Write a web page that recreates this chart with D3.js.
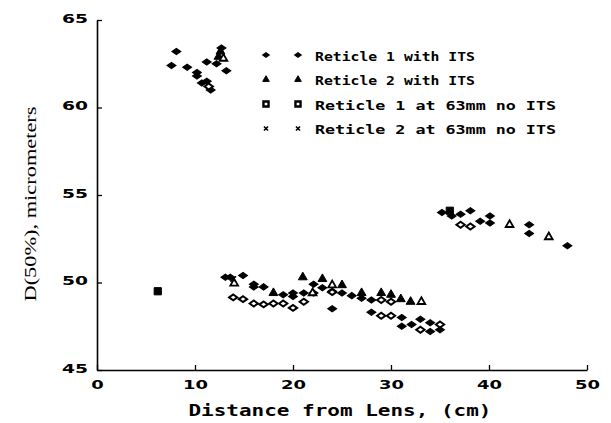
<!DOCTYPE html>
<html>
<head>
<meta charset="utf-8">
<script src="https://cdn.jsdelivr.net/npm/d3@7"></script>
<style>
  body { margin: 0; background: #fff; }
  svg { display: block; }
</style>
</head>
<body>
<div id="chart"></div>
<script>
// values: [distance (cm), D(50%) (micrometers)]
var r1Filled = [
  [7.6,62.4],[8.1,63.2],[9.2,62.3],[10.2,62.0],[10.2,61.8],[10.7,61.4],[11.2,61.5],[11.6,61.0],
  [11.2,62.6],[12.2,62.5],[13.2,62.1],[12.7,63.4],
  [13.1,50.3],[13.6,50.3],[14.9,50.4],[16.0,49.9],[16.0,49.75],[17.0,49.75],[19.0,49.3],[20.0,49.4],
  [20.0,49.2],[21.1,49.4],[22.1,49.9],[22.1,49.4],[23.0,49.7],[24.0,49.5],[25.0,49.4],[26.0,49.25],
  [27.0,49.1],[28.0,49.0],[24.0,48.5],[28.0,48.3],[31.1,48.0],[31.1,47.5],[32.1,47.6],[33.0,47.9],
  [34.0,47.7],[34.0,47.2],[35.0,47.3],
  [35.2,54.0],[36.2,53.8],[37.1,53.9],[38.1,54.1],[39.1,53.5],[40.1,53.8],[40.1,53.4],
  [44.1,53.3],[44.1,52.8],[48.0,52.1]
];
var r1Open = [
  [11.4,61.2],[13.9,49.15],[14.9,49.05],[16.0,48.8],[17.0,48.75],[18.0,48.8],[19.0,48.8],[20.0,48.55],
  [21.1,48.9],[24.0,49.45],[29.0,49.0],[30.0,48.9],[29.0,48.1],[30.0,48.1],[33.0,47.3],[35.0,47.6],
  [37.1,53.3],[38.1,53.2]
];
var r2Filled = [
  [12.4,62.9],[12.6,63.2],[18.0,49.4],[21.0,50.3],[23.0,50.2],[25.0,49.85],[27.0,49.4],
  [29.0,49.4],[30.0,49.3],[31.0,49.05],[32.0,48.9]
];
var r2Open = [
  [12.9,62.8],[14.0,49.95],[22.0,49.4],[24.0,49.85],[33.1,48.9],[42.1,53.3],[46.1,52.6]
];
var r1NoIts = [[6.2,49.5],[36.0,54.1]];
var r2NoIts = [[13.9,50.2]];

var legendLabels = ["Reticle 1 with ITS", "Reticle 2 with ITS",
                    "Reticle 1 at 63mm no ITS", "Reticle 2 at 63mm no ITS"];
var xTicks = [0, 10, 20, 30, 40, 50];
var yTicks = [45, 50, 55, 60, 65];

var margin = {top: 20, right: 24, bottom: 53, left: 97},
    width = 611 - margin.left - margin.right,
    height = 423 - margin.top - margin.bottom;

var svg = d3.select("#chart").append("svg")
    .attr("width", 611)
    .attr("height", 423)
  .append("g")
    .attr("transform", "translate(" + margin.left + "," + margin.top + ")");

var x = d3.scaleLinear().domain([0, 50]).range([0, width]);
var y = d3.scaleLinear().domain([45, 65]).range([height, 0]);

// wide flat diamond, like the plotter marks
var wideDiamond = {
  draw: function(ctx, size) {
    var r = Math.sqrt(size) / 2;
    ctx.moveTo(-r * 1.25, 0);
    ctx.lineTo(0, -r * 0.9);
    ctx.lineTo(r * 1.25, 0);
    ctx.lineTo(0, r * 0.9);
    ctx.closePath();
  }
};
// thin diagonal cross
var thinX = {
  draw: function(ctx, size) {
    var r = Math.sqrt(size) / 2;
    ctx.moveTo(-r, -r); ctx.lineTo(r, r);
    ctx.moveTo(-r, r); ctx.lineTo(r, -r);
  }
};

var shapes = {
  dFill: {type: wideDiamond, size: 48, fill: "#000", sw: 1.2},
  dOpen: {type: wideDiamond, size: 44, fill: "#fff", sw: 2},
  tFill: {type: d3.symbolTriangle, size: 34, fill: "#000", sw: 1},
  tOpen: {type: d3.symbolTriangle, size: 26, fill: "#fff", sw: 1.8},
  sq:    {type: d3.symbolSquare, size: 52, fill: "#000", sw: 1},
  cross: {type: thinX, size: 30, fill: "none", sw: 1.6}
};

function drawMarks(data, key) {
  var s = shapes[key];
  svg.append("g").selectAll("path")
    .data(data).enter().append("path")
    .attr("transform", d => "translate(" + x(d[0]) + "," + y(d[1]) + ")")
    .attr("d", d3.symbol().type(s.type).size(s.size))
    .style("fill", s.fill)
    .style("stroke", "#000")
    .style("stroke-width", s.sw);
}

drawMarks(r1Filled, "dFill");
drawMarks(r1Open, "dOpen");
drawMarks(r2Filled, "tFill");
drawMarks(r2Open, "tOpen");
drawMarks(r1NoIts, "sq");
drawMarks(r2NoIts, "cross");

// axes
var tickFont = "bold 12.5px 'DejaVu Sans'";

var xAxis = svg.append("g")
    .attr("transform", "translate(0," + height + ")")
    .call(d3.axisBottom(x).tickValues(xTicks).tickSizeInner(-5).tickSizeOuter(0));
xAxis.selectAll("text")
    .attr("y", 19).attr("dy", null)
    .style("font", tickFont)
    .attr("textLength", d => String(d).length * 12.5)
    .attr("lengthAdjust", "spacingAndGlyphs");

var yAxis = svg.append("g")
    .call(d3.axisLeft(y).tickValues(yTicks).tickSizeInner(-5).tickSizeOuter(0));
yAxis.selectAll("text")
    .attr("x", -9).attr("y", -2)
    .style("font", tickFont)
    .attr("textLength", 26)
    .attr("lengthAdjust", "spacingAndGlyphs");

svg.selectAll(".domain").style("stroke", "#000").style("stroke-width", 1.6);
svg.selectAll(".tick line").style("stroke", "#000").style("stroke-width", 1.3);
svg.selectAll(".tick text").style("fill", "#000");

// titles
svg.append("text")
    .attr("x", 340 - margin.left)
    .attr("y", 416 - margin.top)
    .style("text-anchor", "middle")
    .style("font", "bold 15px 'DejaVu Sans Mono'")
    .attr("textLength", 303)
    .attr("lengthAdjust", "spacingAndGlyphs")
    .text("Distance from Lens, (cm)");

svg.append("text")
    .attr("transform", "translate(" + (36 - margin.left) + "," + (204 - margin.top) + ") rotate(-90)")
    .style("text-anchor", "middle")
    .style("font", "16.5px 'Liberation Serif'")
    .attr("textLength", 195)
    .attr("lengthAdjust", "spacingAndGlyphs")
    .text("D(50%), micrometers");

// legend: two marker columns then the label
var legendKeys = [["dFill", "dFill"], ["tFill", "tFill"], ["sqOpen", "sqOpen"], ["cross", "cross"]];
var legendWidths = [160, 160, 241, 241];
shapes.sqOpen = {type: d3.symbolSquare, size: 26, fill: "#fff", sw: 2.4};

var legend = svg.append("g")
    .attr("transform", "translate(" + (266 - margin.left) + "," + (55 - margin.top) + ")");

legendLabels.forEach(function(lab, i) {
  var row = legend.append("g").attr("transform", "translate(0," + (i * 24.5) + ")");
  legendKeys[i].forEach(function(k, j) {
    var s = shapes[k];
    row.append("path")
      .attr("transform", "translate(" + (j * 32) + ",0)")
      .attr("d", d3.symbol().type(s.type).size(k == "sqOpen" ? s.size : s.size * 0.55))
      .style("fill", s.fill)
      .style("stroke", "#000")
      .style("stroke-width", s.sw);
  });
  row.append("text")
    .attr("x", 49)
    .attr("y", 5.5)
    .style("font", "bold 12.5px 'DejaVu Sans Mono'")
    .attr("textLength", legendWidths[i])
    .attr("lengthAdjust", "spacingAndGlyphs")
    .text(lab);
});
</script>
</body>
</html>
